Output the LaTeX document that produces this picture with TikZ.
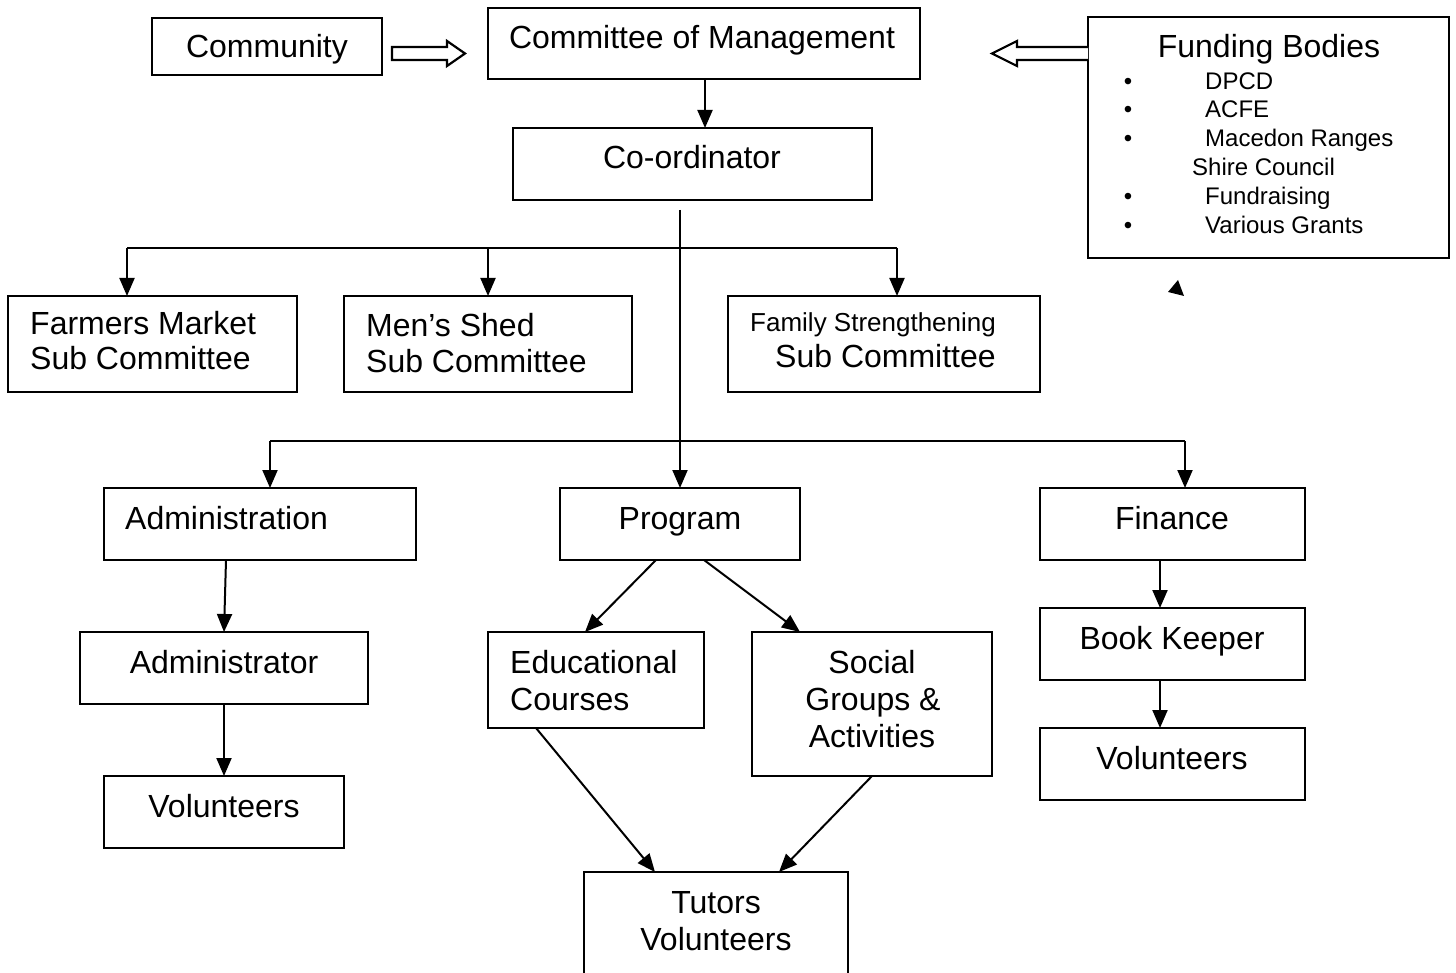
\documentclass[tikz,border=0pt]{standalone}
\usepackage{fontspec}
\setmainfont{Liberation Sans}
\usetikzlibrary{arrows.meta}
\newcommand\mybx[5]{\node[box, minimum width=#4-#2, minimum height=#5-#3] (#1) at (#2,#3) {};}
\begin{document}
\begin{tikzpicture}[x=1pt,y=-1pt,
  box/.style={draw, line width=2pt, inner sep=0pt, outer sep=0pt, anchor=north west},
  t/.style={inner sep=0pt, anchor=base, font=\fontsize{32}{37}\selectfont},
  tl/.style={t, anchor=base west},
  ts/.style={inner sep=0pt, anchor=base west, font=\fontsize{24}{28}\selectfont},
  tm/.style={inner sep=0pt, anchor=base west, font=\fontsize{26}{30}\selectfont},
  ln/.style={line width=2pt},
  arr/.style={line width=2pt, -{Triangle[length=18pt,width=15pt]}},
  hol/.style={line width=2.2pt, fill=white, line join=miter}]
\clip (0,0) rectangle (1456,973);
\useasboundingbox (0,0) rectangle (1456,973);
\fill[white] (0,0) rectangle (1456,973);
% boxes
\mybx{comm}{152}{18}{382}{75}
\mybx{com}{488}{8}{920}{79}
\mybx{coord}{513}{128}{872}{200}
\mybx{fund}{1088}{17}{1449}{258}
\mybx{fm}{8}{296}{297}{392}
\mybx{ms}{344}{296}{632}{392}
\mybx{fs}{728}{296}{1040}{392}
\mybx{adm}{104}{488}{416}{560}
\mybx{prog}{560}{488}{800}{560}
\mybx{fin}{1040}{488}{1305}{560}
\mybx{admr}{80}{632}{368}{704}
\mybx{vol1}{104}{776}{344}{848}
\mybx{edu}{488}{632}{704}{728}
\mybx{soc}{752}{632}{992}{776}
\mybx{bk}{1040}{608}{1305}{680}
\mybx{vol2}{1040}{728}{1305}{800}
\mybx{tut}{584}{872}{848}{990}
% texts
\node[t] (commT) at (267,58) {Community};
\node[t] (comT) at (702,49) {Committee of Management};
\node[t] (coordT) at (692,169) {Co-ordinator};
\node[t] (fundT) at (1269,58) {Funding Bodies};
\node[ts, anchor=base] (b1) at (1128,90) {•};
\node[ts] (f1) at (1205,90) {DPCD};
\node[ts, anchor=base] (b2) at (1128,118) {•};
\node[ts] (f2) at (1205,118) {ACFE};
\node[ts, anchor=base] (b3) at (1128,147) {•};
\node[ts] (f3) at (1205,147) {Macedon Ranges};
\node[ts] (f4) at (1192,176) {Shire Council};
\node[ts, anchor=base] (b5) at (1128,205) {•};
\node[ts] (f5) at (1205,205) {Fundraising};
\node[ts, anchor=base] (b6) at (1128,234) {•};
\node[ts] (f6) at (1205,234) {Various Grants};
\node[tl] (fmT1) at (30,335) {Farmers Market};
\node[tl] (fmT2) at (30,370) {Sub Committee};
\node[tl] (msT1) at (366,337) {Men’s Shed};
\node[tl] (msT2) at (366,373) {Sub Committee};
\node[tm] (fsT1) at (750,332) {Family Strengthening};
\node[tl] (fsT2) at (775,368) {Sub Committee};
\node[tl] (admT) at (125,529) {Administration};
\node[t] (progT) at (680,529) {Program};
\node[t] (finT) at (1172,529) {Finance};
\node[t] (admrT) at (224,673) {Administrator};
\node[t] (vol1T) at (224,817) {Volunteers};
\node[tl] (eduT1) at (510,673) {Educational};
\node[tl] (eduT2) at (510,710) {Courses};
\node[t] (socT1) at (872,673) {Social};
\node[t] (socT2) at (873,710) {Groups \&};
\node[t] (socT3) at (872,747) {Activities};
\node[t] (bkT) at (1172,649) {Book Keeper};
\node[t] (vol2T) at (1172,769) {Volunteers};
\node[t] (tutT1) at (716,913) {Tutors};
\node[t] (tutT2) at (716,950) {Volunteers};
% hollow arrows
\draw[hol] (392,47) -- (447,47) -- (447,41) -- (465,53.5) -- (447,66) -- (447,60) -- (392,60) -- cycle;
\draw[hol] (fund.west |- 0,47) -- (1017,47) -- (1017,41) -- (992,53.5) -- (1017,66) -- (1017,60) -- (fund.west |- 0,60);
% coordinates
\coordinate (xa) at (705,0);
\coordinate (vtop) at (680,210);
\coordinate (b1L) at (127,248);
\coordinate (b1M) at (488,248);
\coordinate (b1R) at (897,248);
\coordinate (b2L) at (270,441);
\coordinate (b2R) at (1185,441);
\coordinate (xp1) at (226,0);
\coordinate (xp2) at (224,0);
\coordinate (xe1) at (656,0);
\coordinate (xe2) at (585,0);
\coordinate (xs1) at (704,0);
\coordinate (xs2) at (800,0);
\coordinate (xt1) at (536,0);
\coordinate (xt2) at (655,0);
\coordinate (xu1) at (872,0);
\coordinate (xu2) at (779,0);
\coordinate (xf) at (1160,0);
% connectors
\draw[arr] (com.south -| xa) -- (coord.north -| xa);
\draw[arr] (vtop) -- (prog.north -| vtop);
\draw[ln] (b1L) -- (b1R);
\draw[arr] (b1L) -- (fm.north -| b1L);
\draw[arr] (b1M) -- (ms.north -| b1M);
\draw[arr] (b1R) -- (fs.north -| b1R);
\draw[ln] (b2L) -- (b2R);
\draw[arr] (b2L) -- (adm.north -| b2L);
\draw[arr] (b2R) -- (fin.north -| b2R);
\draw[arr] (adm.south -| xp1) -- (admr.north -| xp2);
\draw[arr] (admr.south -| xp2) -- (vol1.north -| xp2);
\draw[arr] (prog.south -| xe1) -- (edu.north -| xe2);
\draw[arr] (prog.south -| xs1) -- (soc.north -| xs2);
\draw[arr] (edu.south -| xt1) -- (tut.north -| xt2);
\draw[arr] (soc.south -| xu1) -- (tut.north -| xu2);
\draw[arr] (fin.south -| xf) -- (bk.north -| xf);
\draw[arr] (bk.south -| xf) -- (vol2.north -| xf);
% stray arrowhead
\fill (1168,292) -- (1178,280) -- (1184,296) -- cycle;
\end{tikzpicture}
\end{document}
